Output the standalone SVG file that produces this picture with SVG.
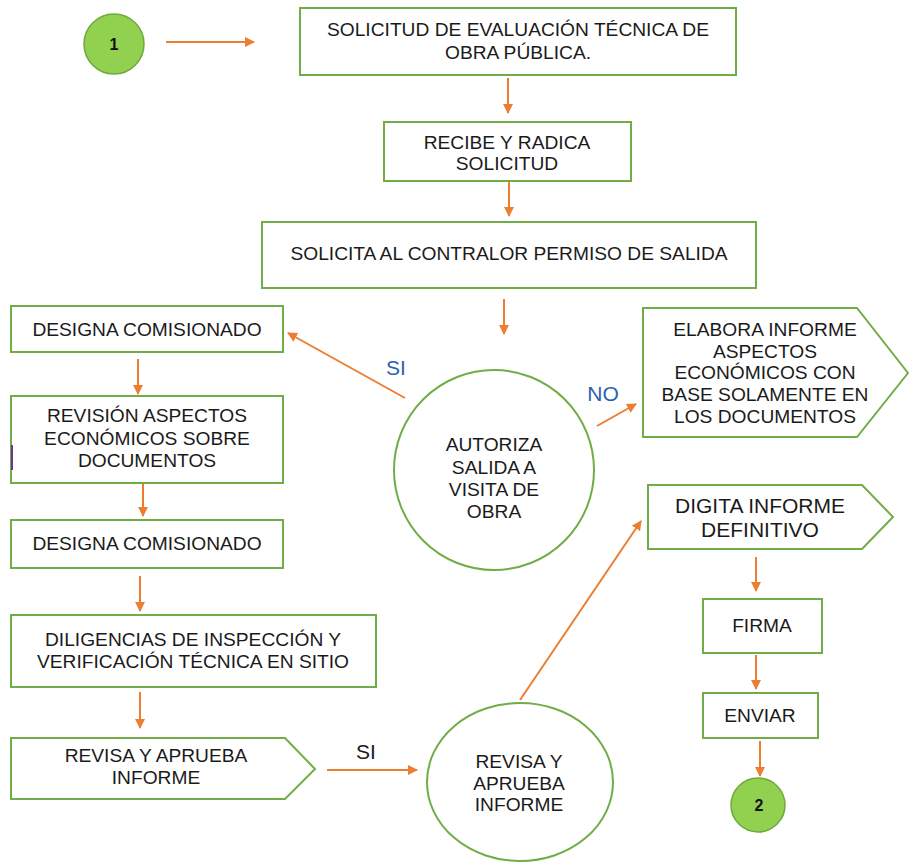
<svg xmlns="http://www.w3.org/2000/svg" width="909" height="865" viewBox="0 0 909 865">
<defs>
<marker id="ah" markerWidth="10" markerHeight="10" refX="9" refY="5" orient="auto" markerUnits="userSpaceOnUse" viewBox="0 0 10 10">
<path d="M0,0 L10,5 L0,10 Z" fill="#ED7D31"/>
</marker>
<style>
.box{fill:#fff;stroke:#70AD47;stroke-width:2}
.term{fill:#92D050;stroke:#6FA83C;stroke-width:1.5}
.t{font-family:"Liberation Sans",Arial,sans-serif;font-size:19.2px;fill:#1a1a1a;text-anchor:middle}
.tb{font-family:"Liberation Sans",Arial,sans-serif;font-size:16px;font-weight:bold;fill:#111;text-anchor:middle}
.big{font-size:21px}
.lbl{font-family:"Liberation Sans",Arial,sans-serif;font-size:21px;text-anchor:middle}
.c{stroke:#ED7D31;stroke-width:2;fill:none;marker-end:url(#ah)}
</style>
</defs>
<rect width="909" height="865" fill="#fff"/>
<g id="connectors">
<line class="c" x1="166" y1="42" x2="254" y2="42"/>
<line class="c" x1="508" y1="78" x2="508" y2="113"/>
<line class="c" x1="509" y1="181" x2="509" y2="216"/>
<line class="c" x1="504" y1="299" x2="504" y2="334"/>
<line class="c" x1="405" y1="398" x2="288" y2="333"/>
<line class="c" x1="597" y1="426" x2="636" y2="404"/>
<line class="c" x1="138" y1="359" x2="138" y2="394"/>
<line class="c" x1="143" y1="481" x2="143" y2="516"/>
<line class="c" x1="140" y1="576" x2="140" y2="611"/>
<line class="c" x1="140" y1="692" x2="140" y2="728"/>
<line class="c" x1="327" y1="770" x2="417" y2="770"/>
<line class="c" x1="520" y1="700" x2="641" y2="521"/>
<line class="c" x1="756" y1="557" x2="756" y2="591"/>
<line class="c" x1="756" y1="655" x2="756" y2="689"/>
<line class="c" x1="760" y1="741" x2="760" y2="776"/>
<text class="lbl" x="396" y="375" fill="#2E5FB0">SI</text>
<text class="lbl" x="603" y="401" fill="#2E5FB0">NO</text>
<text class="lbl" x="366" y="759" fill="#1a1a1a">SI</text>
</g>
<g id="start">
<circle class="term" cx="114" cy="44" r="30"/>
<text class="tb" x="114" y="50">1</text>
</g>
<g id="solicitud">
<rect class="box" x="300" y="8" width="436" height="67"/>
<text class="t" x="518" y="36">SOLICITUD DE EVALUACIÓN TÉCNICA DE</text>
<text class="t" x="518" y="59">OBRA PÚBLICA.</text>
</g>
<g id="recibe">
<rect class="box" x="384" y="122" width="247" height="59"/>
<text class="t" x="507" y="149">RECIBE Y RADICA</text>
<text class="t" x="507" y="170">SOLICITUD</text>
</g>
<g id="permiso">
<rect class="box" x="262" y="222" width="494" height="66"/>
<text class="t" x="509" y="260">SOLICITA AL CONTRALOR PERMISO DE SALIDA</text>
</g>
<g id="autoriza">
<circle class="box" cx="494" cy="470" r="100"/>
<text class="t" x="494" y="451">AUTORIZA</text>
<text class="t" x="494" y="474">SALIDA A</text>
<text class="t" x="494" y="496">VISITA DE</text>
<text class="t" x="494" y="518">OBRA</text>
</g>
<g id="elabora">
<path class="box" d="M643,308 H857 L908,373 L857,437 H643 Z"/>
<text class="t" x="765" y="336">ELABORA INFORME</text>
<text class="t" x="765" y="358">ASPECTOS</text>
<text class="t" x="765" y="379">ECONÓMICOS CON</text>
<text class="t" x="765" y="401">BASE SOLAMENTE EN</text>
<text class="t" x="765" y="423">LOS DOCUMENTOS</text>
</g>
<g id="designa1">
<rect class="box" x="11" y="306" width="272" height="46"/>
<text class="t" x="147" y="336">DESIGNA COMISIONADO</text>
</g>
<g id="revision">
<rect class="box" x="11" y="396" width="272" height="87"/>
<line x1="12" y1="445" x2="12" y2="470" stroke="#7030A0" stroke-width="2"/>
<text class="t" x="147" y="422">REVISIÓN ASPECTOS</text>
<text class="t" x="147" y="445">ECONÓMICOS SOBRE</text>
<text class="t" x="147" y="467">DOCUMENTOS</text>
</g>
<g id="designa2">
<rect class="box" x="11" y="520" width="272" height="48"/>
<text class="t" x="147" y="550">DESIGNA COMISIONADO</text>
</g>
<g id="diligencias">
<rect class="box" x="11" y="615" width="365" height="72"/>
<text class="t" x="193" y="646">DILIGENCIAS DE INSPECCIÓN Y</text>
<text class="t" x="193" y="668">VERIFICACIÓN TÉCNICA EN SITIO</text>
</g>
<g id="revisa1">
<path class="box" d="M11,738 H285 L315,769 L285,799 H11 Z"/>
<text class="t" x="156" y="762">REVISA Y APRUEBA</text>
<text class="t" x="156" y="784">INFORME</text>
</g>
<g id="revisa2">
<ellipse class="box" cx="520" cy="782" rx="93" ry="79"/>
<text class="t" x="519" y="768">REVISA Y</text>
<text class="t" x="519" y="790">APRUEBA</text>
<text class="t" x="519" y="811">INFORME</text>
</g>
<g id="digita">
<path class="box" d="M648,485 H862 L893,517 L862,549 H648 Z"/>
<text class="t big" x="760" y="513">DIGITA INFORME</text>
<text class="t big" x="760" y="537">DEFINITIVO</text>
</g>
<g id="firma">
<rect class="box" x="703" y="599" width="119" height="54"/>
<text class="t" x="762" y="632">FIRMA</text>
</g>
<g id="enviar">
<rect class="box" x="703" y="693" width="115" height="45"/>
<text class="t" x="760" y="722">ENVIAR</text>
</g>
<g id="end">
<circle class="term" cx="758" cy="805" r="27"/>
<text class="tb" x="759" y="811">2</text>
</g>
</svg>
